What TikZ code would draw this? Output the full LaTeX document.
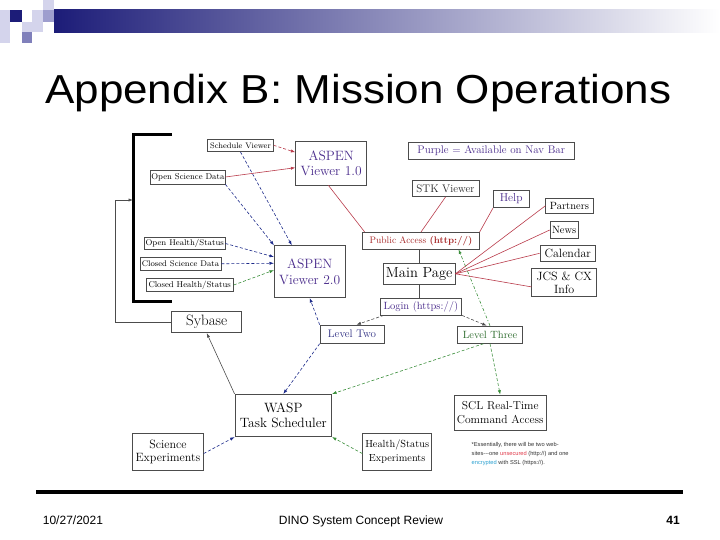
\documentclass[tikz,border=0pt]{standalone}
\usepackage{fontspec}
\usepackage{graphicx}
\newfontfamily\arialf{Liberation Sans}
\usetikzlibrary{calc,arrows.meta}
\definecolor{navyA}{HTML}{1C1C78}
\definecolor{lavL}{HTML}{D4D4EC}
\definecolor{lavM}{HTML}{9E9ECE}
\definecolor{lavD}{HTML}{8080BB}
\definecolor{purpT}{HTML}{4A2C8C}
\definecolor{redL}{HTML}{B83A4A}
\definecolor{redT}{HTML}{A82A2A}
\definecolor{blueD}{HTML}{1C2A8A}
\definecolor{greenD}{HTML}{3A8E3A}
\definecolor{greenT}{HTML}{2A6A2A}
\definecolor{lvlTwo}{HTML}{2A2A80}
\definecolor{unsec}{HTML}{E03A4A}
\definecolor{encr}{HTML}{2AA0D0}
\newcommand\fz[1]{\fontsize{#1}{#1}\selectfont}
\newcommand\fzl[2]{\fontsize{#1}{#2}\selectfont}
\begin{document}
\begin{tikzpicture}[x=1pt,y=-1pt,
  box/.style={draw=black!70, line width=0.7pt, fill=white, inner sep=0pt, align=center},
  arr/.style={-{Latex[length=4.5pt,width=3.2pt]}},
  dsh/.style={dash pattern=on 3pt off 2pt},
  redln/.style={draw=redL, line width=0.6pt},
  blueln/.style={draw=blueD, line width=0.6pt, dsh, arr},
  greenln/.style={draw=greenD, line width=0.6pt, dsh, arr},
  grayln/.style={draw=black!70, line width=0.6pt}
]
\useasboundingbox (0,0) rectangle (720,540);
% header decoration
\fill[lavL] (0,10) rectangle (10,43);
\fill[navyA] (10,10) rectangle (21.7,21.7);
\fill[lavL] (32,10) rectangle (43,21.7);
\fill[lavL] (43,0) rectangle (54,10);
\fill[lavM] (43,10) rectangle (54,21.7);
\fill[lavL] (21.7,21.7) rectangle (43,32.3);
\fill[lavD] (21.7,32.3) rectangle (32.3,43);
\shade[left color=navyA, right color=white] (54,10) rectangle (720,32.3);
% title
\node[anchor=base west, inner sep=0pt] (title) at (45,103.3)
  {\scalebox{1}[0.92]{\arialf\fontsize{44}{50}\selectfont Appendix B: Mission Operations}};
% footer
\fill[black] (36,490) rectangle (683,494);
\node[anchor=base west, inner sep=0pt] (date) at (42.7,524) {\arialf\fontsize{12}{14}\selectfont 10/27/2021};
\node[anchor=base, inner sep=0pt] (foot) at (361,524) {\arialf\fontsize{12}{14}\selectfont DINO System Concept Review};
\node[anchor=base east, inner sep=0pt] (pnum) at (680,524) {\arialf\bfseries\fontsize{12}{14}\selectfont 41};

% bracket
\draw[line width=3pt, line join=miter] (172,135) -- (133,135) -- (133,301) -- (172,301);
\coordinate (brk) at (133,200);

% nodes
\node[box, minimum width=65.6pt, minimum height=12.7pt, font=\fz{8}] (sched) at (240.5,145.3) {Schedule Viewer};
\node[box, minimum width=74.3pt, minimum height=14pt, font=\fz{8.5}] (osd) at (187.9,177) {Open Science Data};
\node[box, minimum width=71pt, minimum height=43.3pt, font=\fzl{13.5}{15}, text=purpT] (asp1) at (331.2,163.3) {ASPEN\\Viewer 1.0};
\node[box, minimum width=80.7pt, minimum height=12pt, font=\fz{8.3}] (ohs) at (184.7,243.5) {Open Health/Status};
\node[box, minimum width=81pt, minimum height=12.3pt, font=\fz{8.2}] (csd) at (180.5,263.8) {Closed Science Data};
\node[box, minimum width=87.3pt, minimum height=13.3pt, font=\fz{8.5}] (chs) at (189.7,285) {Closed Health/Status};
\node[box, minimum width=70.7pt, minimum height=52pt, font=\fzl{13.5}{15.5}, text=purpT] (asp2) at (309.7,271.7) {ASPEN\\Viewer 2.0};
\node[box, minimum width=116.6pt, minimum height=16.7pt, font=\fz{9.5}, text=redT] (pub) at (421,240.7) {Public Access \textbf{(http://)}};
\node[box, minimum width=165.7pt, minimum height=17pt, font=\fz{11}, text=purpT] (purple) at (491.2,150.8) {Purple = Available on Nav Bar};
\node[box, minimum width=67pt, minimum height=16.7pt, font=\fz{11}, text=black!85] (stk) at (445.5,188.3) {STK Viewer};
\node[box, minimum width=35.7pt, minimum height=17.4pt, font=\fz{11.5}, text=purpT] (help) at (511.2,199) {Help};
\node[box, minimum width=47.6pt, minimum height=15pt, font=\fz{10.5}] (partners) at (569.5,205.8) {Partners};
\node[box, minimum width=28.3pt, minimum height=16.6pt, font=\fz{10.5}] (news) at (564.2,230) {News};
\node[box, minimum width=55.7pt, minimum height=16.7pt, font=\fz{12}] (cal) at (567.8,253.3) {Calendar};
\node[box, minimum width=65pt, minimum height=28.4pt, font=\fzl{12}{13}] (jcs) at (564.2,282.5) {JCS \& CX\\Info};
\node[box, minimum width=71.7pt, minimum height=21pt, font=\fz{14.5}] (main) at (419.2,273.8) {Main Page};
\node[box, minimum width=81.7pt, minimum height=16.7pt, font=\fz{10.5}, text=purpT] (login) at (420.8,306.7) {Login (https://)};
\node[box, minimum width=64pt, minimum height=18.3pt, font=\fz{11}, text=lvlTwo] (l2) at (352,334.2) {Level Two};
\node[box, minimum width=64.6pt, minimum height=17.3pt, font=\fz{10.5}, text=greenT] (l3) at (490,334.7) {Level Three};
\node[box, minimum width=70pt, minimum height=21.7pt, font=\fz{15}] (syb) at (206.7,321.8) {Sybase};
\node[box, minimum width=96.7pt, minimum height=42.4pt, font=\fzl{13.5}{15.5}] (wasp) at (283.3,415.5) {WASP\\Task Scheduler};
\node[box, minimum width=70.6pt, minimum height=36.7pt, font=\fzl{12}{13.5}] (sci) at (168,451.7) {Science\\Experiments};
\node[box, minimum width=69pt, minimum height=36.7pt, font=\fzl{10.3}{13.5}] (hse) at (397.2,451.7) {Health/Status\\Experiments};
\node[box, minimum width=91.7pt, minimum height=35pt, font=\fzl{11.5}{13.5}] (scl) at (500.2,412.5) {SCL Real-Time\\Command Access};
\node[anchor=north west, inner sep=0pt, align=left, text=black!80, font={\arialf\fontsize{5.7}{9}\selectfont}] (note) at (471.5,442.5)
  {*Essentially, there will be two web-\\sites---one \textcolor{unsec}{unsecured} (http://) and one\\\textcolor{encr}{encrypted} with SSL (https://).};

% connectors
\draw[redln, dsh, arr] (sched.east) -- ($(asp1.north west)!0.25!(asp1.south west)$);
\draw[redln, arr] (osd.east) -- ($(asp1.north west)!0.6!(asp1.south west)$);
\draw[blueln] (sched.south) -- ($(asp2.north west)!0.25!(asp2.north east)$);
\draw[blueln] (osd.south east) -- (asp2.north west);
\draw[blueln] (ohs.east) -- ($(asp2.north west)!0.22!(asp2.south west)$);
\draw[blueln] (csd.east) -- ($(asp2.north west)!0.34!(asp2.south west)$);
\draw[greenln] (chs.east) -- ($(asp2.north west)!0.47!(asp2.south west)$);
\draw[redln] ($(asp1.south west)!0.46!(asp1.south east)$) -- ($(pub.north west)!0.02!(pub.north east)$);
\draw[redln] (stk.south) -- (pub.north);
\draw[redln] (help.south west) -- (pub.north east);
\draw[grayln] (main.north) -- (main.north |- pub.south);
\draw[grayln] (main.south) -- (main.south |- login.north);
\draw[redln] (main.east) -- (partners.west);
\draw[redln] (main.east) -- (news.west);
\draw[redln] (main.east) -- (cal.west);
\draw[redln] (main.east) -- ($(jcs.north west)!0.65!(jcs.south west)$);
\draw[greenln, dash pattern=on 3pt off 2pt on 1pt off 2pt] (l3.north) -- ($(pub.south west)!0.82!(pub.south east)$);
\draw[grayln, dsh, arr] ($(login.south west)!0.05!(login.south east)$) -- ($(l2.north west)!0.57!(l2.north east)$);
\draw[grayln, dsh, arr] (login.south east) -- ($(l3.north west)!0.45!(l3.north east)$);
\draw[blueln] (l2.north west) -- (asp2.south);
\draw[blueln] (l2.south west) -- (wasp.north);
\draw[grayln, arr] (wasp.north west) -- (syb.south);
\draw[greenln] ($(l3.south west)!0.4!(l3.south east)$) -- (wasp.north east);
\draw[greenln] (l3.south) -- (scl.north);
\draw[blueln] ($(sci.north east)!0.55!(sci.south east)$) -- (wasp.south west);
\draw[greenln] ($(hse.north west)!0.55!(hse.south west)$) -- (wasp.south east);
\draw[grayln, arr] (syb.west) -- ++(-56,0) |- (brk);
\end{tikzpicture}
\end{document}
